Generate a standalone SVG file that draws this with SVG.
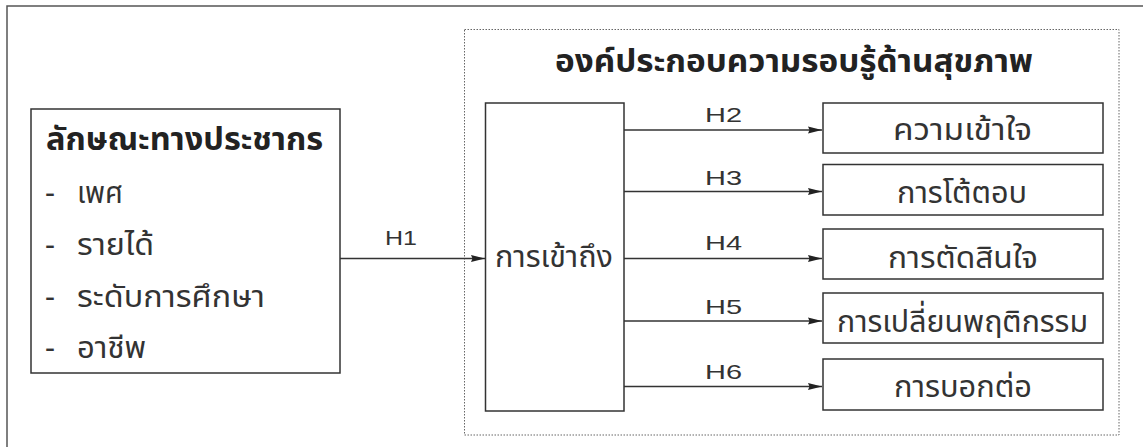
<svg xmlns="http://www.w3.org/2000/svg" width="1143" height="447" viewBox="0 0 1143 447">
<defs>
<marker id="arr" viewBox="0 0 14 8" refX="14" refY="4" markerWidth="14" markerHeight="8" markerUnits="userSpaceOnUse" orient="auto">
<path d="M0,0.5 L14,4 L0,7.5 L1.5,4 Z" fill="#222"/>
</marker>
<style>
.frame{fill:#fff;stroke:#555;stroke-width:1.5}
.box{fill:#fff;stroke:#333;stroke-width:1.5}
.dot{fill:none;stroke:#666;stroke-width:1;stroke-dasharray:1.5 1.5}
.th{font-family:"Noto Sans Thai","Noto Sans","DejaVu Sans",sans-serif;font-size:31px;fill:#333}
.thb{font-family:"Noto Sans Thai","Noto Sans","DejaVu Sans",sans-serif;font-size:31px;font-weight:bold;fill:#222}
.h{font-family:"Liberation Sans",Arial,sans-serif;font-size:21px;fill:#333;text-anchor:middle}
.c{stroke:#333;stroke-width:1.5;fill:none}
.m{text-anchor:middle}
</style>
</defs>
<rect class="frame" x="7" y="6" width="1145" height="460"/>
<rect class="dot" x="464.5" y="29.5" width="654.5" height="405.5"/>
<text class="thb" x="555" y="72" textLength="478" lengthAdjust="spacingAndGlyphs">องค์ประกอบความรอบรู้ด้านสุขภาพ</text>

<g id="demographics">
<rect class="box" x="31" y="109" width="309" height="264"/>
<text class="thb" x="46" y="150" textLength="277" lengthAdjust="spacingAndGlyphs">ลักษณะทางประชากร</text>
<text class="th" x="45" y="203">-</text><text class="th" x="77" y="203" textLength="46" lengthAdjust="spacingAndGlyphs">เพศ</text>
<text class="th" x="45" y="255">-</text><text class="th" x="77" y="255" textLength="77" lengthAdjust="spacingAndGlyphs">รายได้</text>
<text class="th" x="45" y="307">-</text><text class="th" x="77" y="307" textLength="188" lengthAdjust="spacingAndGlyphs">ระดับการศึกษา</text>
<text class="th" x="45" y="358">-</text><text class="th" x="77" y="358" textLength="69" lengthAdjust="spacingAndGlyphs">อาชีพ</text>
</g>

<g id="access">
<rect class="box" x="485.5" y="103" width="138.5" height="308"/>
<text class="th" x="495" y="267" textLength="118" lengthAdjust="spacingAndGlyphs">การเข้าถึง</text>
</g>

<g id="understanding">
<rect class="box" x="823" y="103" width="280" height="50"/>
<text class="th" x="893" y="140" textLength="139" lengthAdjust="spacingAndGlyphs">ความเข้าใจ</text>
</g>
<g id="interaction">
<rect class="box" x="823" y="164.5" width="280" height="50.5"/>
<text class="th" x="897" y="203" textLength="130" lengthAdjust="spacingAndGlyphs">การโต้ตอบ</text>
</g>
<g id="decision">
<rect class="box" x="823" y="229" width="280" height="50"/>
<text class="th" x="888" y="268" textLength="150" lengthAdjust="spacingAndGlyphs">การตัดสินใจ</text>
</g>
<g id="behavior">
<rect class="box" x="823" y="293" width="280" height="50"/>
<text class="th" x="837" y="332" textLength="251" lengthAdjust="spacingAndGlyphs">การเปลี่ยนพฤติกรรม</text>
</g>
<g id="tellothers">
<rect class="box" x="823" y="359" width="280" height="51"/>
<text class="th" x="894" y="397" textLength="138" lengthAdjust="spacingAndGlyphs">การบอกต่อ</text>
</g>

<g id="connectors">
<line class="c" x1="340" y1="258.5" x2="485" y2="258.5" marker-end="url(#arr)"/>
<text class="h" x="401" y="245" textLength="32" lengthAdjust="spacingAndGlyphs">H1</text>
<line class="c" x1="624" y1="130" x2="822" y2="130" marker-end="url(#arr)"/>
<text class="h" x="723.5" y="122" textLength="37" lengthAdjust="spacingAndGlyphs">H2</text>
<line class="c" x1="624" y1="191.5" x2="822" y2="191.5" marker-end="url(#arr)"/>
<text class="h" x="723.5" y="185" textLength="37" lengthAdjust="spacingAndGlyphs">H3</text>
<line class="c" x1="624" y1="258.5" x2="822" y2="258.5" marker-end="url(#arr)"/>
<text class="h" x="723.5" y="250" textLength="37" lengthAdjust="spacingAndGlyphs">H4</text>
<line class="c" x1="624" y1="321" x2="822" y2="321" marker-end="url(#arr)"/>
<text class="h" x="723.5" y="314" textLength="37" lengthAdjust="spacingAndGlyphs">H5</text>
<line class="c" x1="624" y1="386.5" x2="822" y2="386.5" marker-end="url(#arr)"/>
<text class="h" x="723.5" y="379" textLength="37" lengthAdjust="spacingAndGlyphs">H6</text>
</g>
</svg>
